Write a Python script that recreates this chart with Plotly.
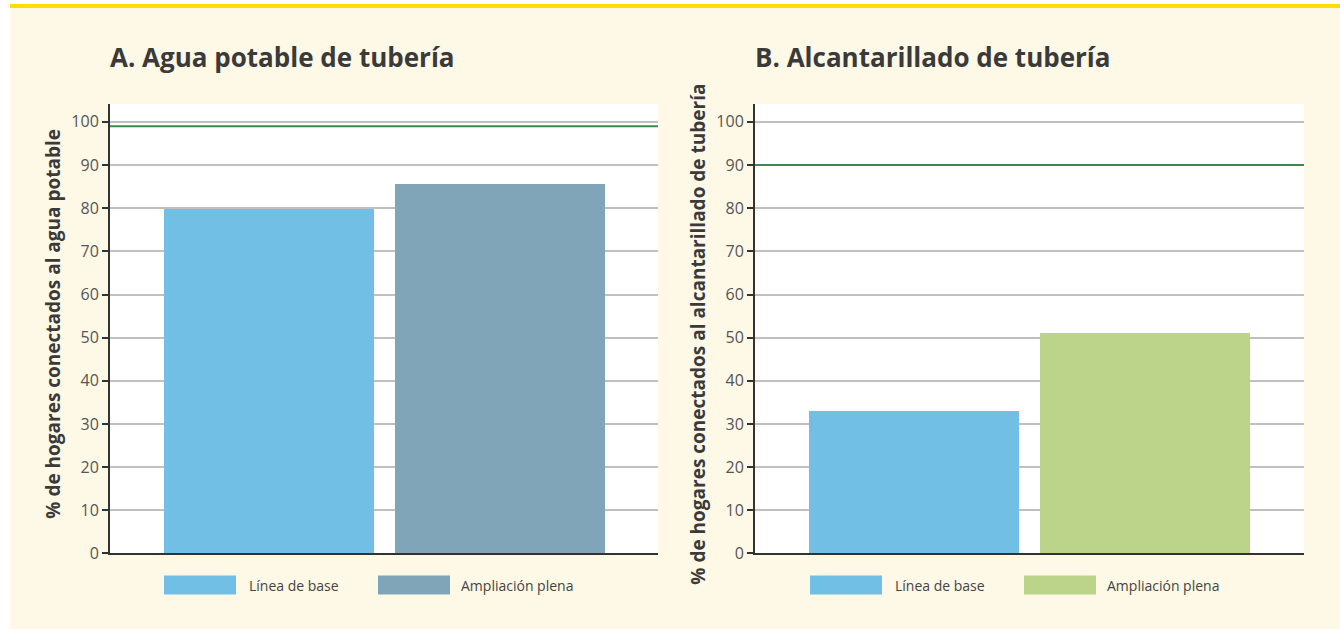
import plotly.graph_objects as go

W = 1340
H = 640          # rendered viewport height (picture is squeezed to 629)
SQ = 0.9838      # observed vertical squeeze of the screenshot

# ---- data ----
series_names = ["Línea de base", "Ampliación plena"]
titles = ["A. Agua potable de tubería", "B. Alcantarillado de tubería"]
ytitles = ["% de hogares conectados al agua potable",
           "% de hogares conectados al alcantarillado de tubería"]
values_A = [79.8, 85.7]
values_B = [33, 51]
targets = [99, 90]
colors_A = ["#72BFE6", "#80A5B8"]
colors_B = ["#72BFE6", "#BCD489"]
y_ticks = [0, 10, 20, 30, 40, 50, 60, 70, 80, 90, 100]

FONT = "Open Sans"
CREAM = "#FEF8E6"

def px(x):
    return x / W

def py(y):
    ya = (y + 1) / SQ
    return 1 - ya / H

fig = go.Figure()

panels = [
    dict(vals=values_A, cols=colors_A, x0=110, x1=658, xa="x", ya="y"),
    dict(vals=values_B, cols=colors_B, x0=755, x1=1304, xa="x2", ya="y2"),
]
top, bottom = 103, 553
ymax = (bottom - top) / ((bottom - 121) / 100)

for i, p in enumerate(panels):
    for j, name in enumerate(series_names):
        fig.add_trace(go.Bar(
            x=[j], y=[p["vals"][j]], name=name, width=0.909,
            marker=dict(color=p["cols"][j], line=dict(width=0)),
            xaxis=p["xa"], yaxis=p["ya"], showlegend=False,
            hovertemplate=name + ": %{y}<extra></extra>"))
    # target line
    fig.add_shape(type="line", xref=p["xa"] + " domain", yref=p["ya"],
                  x0=0, x1=1, y0=targets[i], y1=targets[i],
                  line=dict(color="#3A8A4F", width=2), layer="above")

unit = 231.0
for i, p in enumerate(panels):
    width_units = (p["x1"] - p["x0"]) / unit
    left = -159 / unit
    ax = dict(domain=[px(p["x0"]), px(p["x1"])], range=[left, left + width_units],
              showticklabels=False, showgrid=False, zeroline=False,
              showline=True, linecolor="#333333", linewidth=2,
              ticks="", fixedrange=True, layer="above traces",
              anchor="y" if i == 0 else "y2")
    ay = dict(domain=[py(bottom), py(top)], range=[0, ymax],
              tickvals=y_ticks, ticks="outside", ticklen=6, tickwidth=1.5,
              tickcolor="#333333", showline=True, linecolor="#333333", linewidth=2,
              showgrid=True, gridcolor="rgba(130,130,130,0.5)", gridwidth=1.5,
              zeroline=False, tickfont=dict(family=FONT, size=16, color="#555555"),
              layer="above traces", fixedrange=True,
              anchor="x" if i == 0 else "x2")
    if i == 0:
        fig.update_layout(xaxis=ax, yaxis=ay)
    else:
        fig.update_layout(xaxis2=ax, yaxis2=ay)

annotations = []
# titles
for i, p in enumerate(panels):
    annotations.append(dict(text="<b>" + titles[i] + "</b>", xref="paper", yref="paper",
                            x=px(p["x0"] - 2), y=py(56), xanchor="left", yanchor="middle",
                            showarrow=False, font=dict(family=FONT, size=26, color="#3a3a3a")))
# y titles
ytitle_x = [53, 698]
for i, p in enumerate(panels):
    annotations.append(dict(text="<b>" + ytitles[i] + "</b>", xref="paper", yref="paper",
                            x=px(ytitle_x[i]), y=py(323 if i == 0 else 334), textangle=-90,
                            xanchor="center", yanchor="middle", showarrow=False,
                            font=dict(family=FONT, size=19, color="#3a3a3a")))

# legends (swatch + label) per panel
legend_layout = [
    [(164, 236, 247), (378, 450, 459)],
    [(810, 882, 893), (1024, 1096, 1105)],
]
for i, p in enumerate(panels):
    for j, name in enumerate(series_names):
        s0, s1, tx = legend_layout[i][j]
        fig.add_shape(type="rect", xref="paper", yref="paper",
                      x0=px(s0), x1=px(s1), y0=py(594), y1=py(575),
                      fillcolor=p["cols"][j], line=dict(width=0))
        annotations.append(dict(text=name, xref="paper", yref="paper",
                                x=px(tx), y=py(585), xanchor="left", yanchor="middle",
                                showarrow=False,
                                font=dict(family=FONT, size=14, color="#444444")))

# page frame: white left strip, white top strip, yellow rule
fig.add_shape(type="rect", xref="paper", yref="paper", x0=0, x1=px(10), y0=0, y1=1,
              fillcolor="white", line=dict(width=0), layer="below")
fig.add_shape(type="rect", xref="paper", yref="paper", x0=0, x1=1, y0=py(3), y1=1,
              fillcolor="white", line=dict(width=0), layer="below")
fig.add_shape(type="rect", xref="paper", yref="paper", x0=px(10), x1=1, y0=py(7), y1=py(3),
              fillcolor="#FFDD00", line=dict(width=0), layer="below")

fig.update_layout(
    width=W, height=H, margin=dict(l=0, r=0, t=0, b=0),
    paper_bgcolor=CREAM, plot_bgcolor="white",
    annotations=annotations, showlegend=False, bargap=0,
    font=dict(family=FONT),
)

fig.write_html("out.html", config={"displayModeBar": False},
               post_script="document.body.style.margin='0';document.body.style.overflow='hidden';")
